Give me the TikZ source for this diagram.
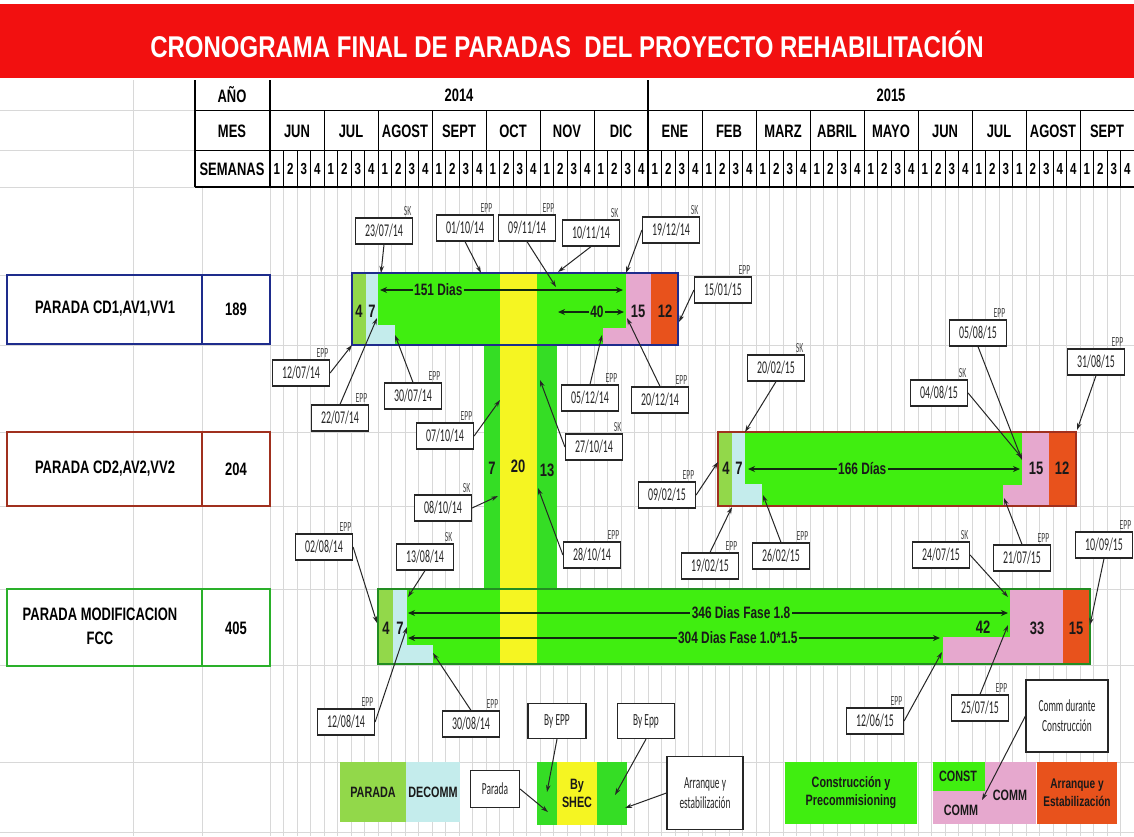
\documentclass[tikz,border=0pt]{standalone}
\usepackage{fontspec}
\setmainfont{Liberation Sans}
\newfontfamily\nar[FakeStretch=0.72]{Liberation Sans}
\newfontfamily\tfont[FakeStretch=0.8]{Liberation Sans}
\newfontfamily\calc[FakeStretch=0.55]{Carlito}
\usetikzlibrary{arrows.meta}
\definecolor{tred}{HTML}{F21010}
\definecolor{lgreen}{HTML}{92D84A}
\definecolor{bgreen}{HTML}{40EE10}
\definecolor{sgreen}{HTML}{35DD25}
\definecolor{lcyan}{HTML}{C4ECEC}
\definecolor{pinkc}{HTML}{E6A8CE}
\definecolor{orng}{HTML}{E8521C}
\definecolor{yel}{HTML}{F5F522}
\definecolor{bordA}{HTML}{1E2C8C}
\definecolor{bordB}{HTML}{A0301E}
\definecolor{bordC}{HTML}{2AB02A}
\definecolor{gridc}{HTML}{D8D8D8}
\definecolor{arrc}{HTML}{102810}
\newcommand{\mycall}[7]{%
  \node[callout] (#1) at (#2,#3) {#4};
  \node[tagtxt, anchor=south east] (#1t) at ([xshift=-1pt,yshift=1pt]#1.north east) {#5};
  \coordinate (#1p) at (#6);
  \draw[callarr] (#7) -- (#1p);
}
\begin{document}
\begin{tikzpicture}[x=1pt,y=-1pt,
  hd/.style={font=\nar\bfseries\fontsize{18}{18}\selectfont, inner sep=0pt},
  wk/.style={font=\nar\bfseries\fontsize{16}{16}\selectfont, inner sep=0pt},
  num/.style={font=\nar\bfseries\fontsize{18}{18}\selectfont, inner sep=0pt, text=black!90},
  lbl/.style={font=\nar\bfseries\fontsize{16.5}{16.5}\selectfont, inner sep=1.5pt, fill=bgreen, text=black!90},
  callout/.style={draw=black!85, fill=white, line width=1.2pt, font=\calc\fontsize{18}{18}\selectfont, minimum width=57pt, minimum height=26pt, inner sep=1pt, text=black!85},
  tagtxt/.style={font=\calc\fontsize{14}{14}\selectfont, text=black!70, inner sep=0.5pt},
  callarr/.style={-{Stealth[length=7pt,width=4.5pt]}, line width=1pt, black!85},
  harr/.style={{Stealth[length=7pt,width=6pt]}-{Stealth[length=7pt,width=6pt]}, line width=2pt, arrc},
  rowlbl/.style={font=\nar\bfseries\fontsize{18}{24}\selectfont, inner sep=0pt, align=center},
  leg/.style={font=\nar\bfseries\fontsize{15}{18}\selectfont, inner sep=0pt, align=center, text=black!90},
  lbox/.style={draw=black!85, fill=white, line width=1.2pt, font=\calc\fontsize{17}{20}\selectfont, inner sep=1pt, align=center, text=black!85},
  gl/.style={gridc, line width=0.6pt},
  hline/.style={black, line width=1.6pt}
]
\useasboundingbox (0,0) rectangle (1134,836);
\fill[white] (0,0) rectangle (1134,836);

% spreadsheet grid
\foreach \k in {1,...,63} \draw[gl] ({270+13.5*\k},187) -- ({270+13.5*\k},836);
\foreach \yy in {187,275,345,432,506,589,665,762,832} \draw[gl] (0,\yy) -- (1134,\yy);
\foreach \yy in {110,150} \draw[gl] (0,\yy) -- (195,\yy);
\foreach \xx in {133,202,270} \draw[gl] (\xx,80) -- (\xx,836);

% title bar
\fill[tred] (0,4) rectangle (1134,78);
\node[font=\tfont\bfseries\fontsize{30}{30}\selectfont, text=white, inner sep=0pt] (title) at (567,44) {CRONOGRAMA FINAL DE PARADAS \ DEL PROYECTO REHABILITACIÓN};

% header table
\fill[white] (195,80) rectangle (1134,187);
\foreach \k in {1,...,63} \draw[black, line width=0.5pt] ({270+13.5*\k},150) -- ({270+13.5*\k},187);
\foreach \i in {1,...,15} \draw[black, line width=0.9pt] ({270+54*\i},110) -- ({270+54*\i},187);
\draw[hline] (195,80) -- (195,187);
\draw[hline] (270,80) -- (270,187);
\draw[hline] (648,80) -- (648,187);
\draw[black, line width=1pt] (195,110) -- (1134,110);
\draw[black, line width=1pt] (195,150) -- (1134,150);
\draw[hline] (195,187) -- (1134,187);
\node[hd] (hano) at (232,95) {AÑO};
\node[hd] (hmes) at (232,131) {MES};
\node[hd] (hsem) at (232,169) {SEMANAS};
\node[hd] (y14) at (459,95) {2014};
\node[hd] (y15) at (891,95) {2015};
\foreach \m [count=\i from 0] in {JUN,JUL,AGOST,SEPT,OCT,NOV,DIC,ENE,FEB,MARZ,ABRIL,MAYO,JUN,JUL,AGOST,SEPT}
  \node[hd] (m\i) at ({297+54*\i},131) {\m};
\foreach \w [count=\i from 0] in {1,2,3,4,1,2,3,4,1,2,3,4,1,2,3,4,1,2,3,4,1,2,3,4,1,2,3,4,1,2,3,4,1,2,3,4,1,2,3,4,1,2,3,4,1,2,3,4,1,2,3,4,1,2,3,1,2,3,4,4,1,2,3,4}
  \node[wk] (w\i) at ({276.75+13.5*\i},169) {\w};

% row label boxes
\draw[bordA, line width=1.8pt] (7,275) rectangle (270,344);
\draw[bordA, line width=1.2pt] (202,275) -- (202,344);
\node[rowlbl] (p1) at (105,309) {PARADA CD1,AV1,VV1};
\node[rowlbl] (d1) at (236,309) {189};
\draw[bordB, line width=1.8pt] (7,432) rectangle (270,506);
\draw[bordB, line width=1.2pt] (202,432) -- (202,506);
\node[rowlbl] (p2) at (105,469) {PARADA CD2,AV2,VV2};
\node[rowlbl] (d2) at (236,469) {204};
\draw[bordC, line width=1.8pt] (7,589) rectangle (270,666);
\draw[bordC, line width=1.2pt] (202,589) -- (202,666);
\node[rowlbl] (p3) at (100,626) {PARADA MODIFICACION\\FCC};
\node[rowlbl] (d3) at (236,628) {405};

% bar 1
\fill[bgreen] (352,273) rectangle (678,345);
\fill[lgreen] (352,273) rectangle (366,345);
\fill[lcyan] (366,273) rectangle (378,345);
\fill[lcyan] (366,325) rectangle (395,345);
\fill[pinkc] (626,273) rectangle (651,345);
\fill[pinkc] (603,328) rectangle (626,345);
\fill[orng] (651,273) rectangle (678,345);
% bar 2
\fill[bgreen] (718,432) rectangle (1076,506);
\fill[lgreen] (718,432) rectangle (732,506);
\fill[lcyan] (732,432) rectangle (745,506);
\fill[lcyan] (732,484) rectangle (762,506);
\fill[pinkc] (1022,432) rectangle (1049,506);
\fill[pinkc] (1003,485) rectangle (1022,506);
\fill[orng] (1049,432) rectangle (1076,506);
% bar 3
\fill[bgreen] (378,589) rectangle (1090,664);
\fill[lgreen] (378,589) rectangle (393,664);
\fill[lcyan] (393,589) rectangle (407,664);
\fill[lcyan] (393,645) rectangle (433,664);
\fill[pinkc] (1010,589) rectangle (1063,664);
\fill[pinkc] (943,637) rectangle (1010,664);
\fill[orng] (1063,589) rectangle (1090,664);
% vertical stripe
\fill[sgreen] (484,345) rectangle (557,589);
\fill[yel] (500,273) rectangle (537,664);
% bar borders
\draw[bordA, line width=2.4pt] (352,273) rectangle (678,345);
\draw[bordB, line width=2.2pt] (718,432) rectangle (1076,506);
\draw[bordC!80!black, line width=2pt] (378,589) rectangle (1090,664);

% numbers
\node[num] (b1a) at (359,311) {4};
\node[num] (b1b) at (372,311) {7};
\node[num] (b1c) at (638,311) {15};
\node[num] (b1d) at (665,311) {12};
\node[num] (b2a) at (726,468) {4};
\node[num] (b2b) at (739,468) {7};
\node[num] (b2c) at (1036,468) {15};
\node[num] (b2d) at (1062,468) {12};
\node[num] (b3a) at (386,628) {4};
\node[num] (b3b) at (400,628) {7};
\node[num] (b3c) at (983,627) {42};
\node[num] (b3d) at (1037,628) {33};
\node[num] (b3e) at (1076,628) {15};
\node[num] (sa) at (492,468) {7};
\node[num] (sb) at (518,466) {20};
\node[num] (sc) at (547,470) {13};

% horizontal duration arrows
\coordinate (h1l) at (380,290); \coordinate (h1r) at (623,290);
\draw[harr] (h1l) -- node[lbl, pos=0.24] (t151) {151 Dias} (h1r);
\coordinate (h2l) at (558,312); \coordinate (h2r) at (624,312);
\draw[harr] (h2l) -- node[lbl, pos=0.59] (t40) {40} (h2r);
\coordinate (h3l) at (748,469); \coordinate (h3r) at (1020,469);
\draw[harr] (h3l) -- node[lbl, pos=0.42] (t166) {166 Días} (h3r);
\coordinate (h4l) at (408,613); \coordinate (h4r) at (1008,613);
\draw[harr] (h4l) -- node[lbl, pos=0.555] (t346) {346 Dias Fase 1.8} (h4r);
\coordinate (h5l) at (408,638); \coordinate (h5r) at (940,638);
\draw[harr] (h5l) -- node[lbl, pos=0.62] (t304) {304 Dias Fase 1.0*1.5} (h5r);

% callouts
\mycall{c1}{384}{231}{23/07/14}{SK}{381,273}{c1.south}
\mycall{c2}{465}{228}{01/10/14}{EPP}{481,273}{c2.south}
\mycall{c3}{527}{228}{09/11/14}{EPP}{556,287}{c3.south}
\mycall{c4}{591}{233}{10/11/14}{SK}{558,272}{c4.south}
\mycall{c5}{671}{230}{19/12/14}{SK}{626,273}{c5.west}
\mycall{c6}{723}{290}{15/01/15}{EPP}{679,322}{c6.west}
\mycall{c7}{301}{373}{12/07/14}{EPP}{352,345}{c7.east}
\mycall{c8}{340}{418}{22/07/14}{EPP}{377,318}{c8.north}
\mycall{c9}{413}{396}{30/07/14}{EPP}{395,335}{c9.north}
\mycall{c10}{590}{398}{05/12/14}{EPP}{602,335}{c10.north}
\mycall{c11}{660}{400}{20/12/14}{EPP}{627,318}{c11.north}
\mycall{c12}{445}{436}{07/10/14}{EPP}{500,400}{c12.east}
\mycall{c13}{594}{447}{27/10/14}{SK}{540,380}{c13.west}
\mycall{c14}{443}{508}{08/10/14}{SK}{498,496}{c14.east}
\mycall{c15}{592}{555}{28/10/14}{EPP}{538,488}{c15.west}
\mycall{c16}{776}{368}{20/02/15}{SK}{745,432}{c16.south}
\mycall{c17}{978}{333}{05/08/15}{EPP}{1022,460}{c17.south}
\mycall{c18}{939}{393}{04/08/15}{SK}{1022,458}{c18.east}
\mycall{c19}{1096}{362}{31/08/15}{EPP}{1077,430}{c19.south}
\mycall{c20}{667}{495}{09/02/15}{EPP}{718,462}{c20.east}
\mycall{c21}{710}{566}{19/02/15}{EPP}{732,507}{c21.north}
\mycall{c22}{781}{556}{26/02/15}{EPP}{763,495}{c22.north}
\mycall{c23}{1022}{558}{21/07/15}{EPP}{1004,498}{c23.north}
\mycall{c24}{324}{547}{02/08/14}{EPP}{377,623}{c24.east}
\mycall{c25}{425}{557}{13/08/14}{SK}{408,597}{c25.south}
\mycall{c26}{346}{722}{12/08/14}{EPP}{407,627}{c26.east}
\mycall{c27}{471}{724}{30/08/14}{EPP}{433,653}{c27.north}
\mycall{c28}{941}{555}{24/07/15}{SK}{1008,597}{c28.east}
\mycall{c29}{1104}{545}{10/09/15}{EPP}{1090,625}{c29.south}
\mycall{c30}{875}{721}{12/06/15}{EPP}{942,652}{c30.east}
\mycall{c31}{980}{708}{25/07/15}{EPP}{1008,625}{c31.north}

% legend
\fill[lgreen] (340,762) rectangle (406,822);
\node[leg] (lgp) at (373,792) {PARADA};
\fill[lcyan] (406,762) rectangle (460,822);
\node[leg] (lgd) at (433,792) {DECOMM};
\fill[sgreen] (537,762) rectangle (627,825);
\fill[yel] (557,762) rectangle (597,825);
\node[leg] (lgs) at (577,793) {By\\SHEC};
\fill[bgreen] (785,762) rectangle (917,824);
\node[leg] (lgc) at (851,793) {Construcción y\\Precommisioning};
\fill[pinkc] (933,762) rectangle (1036,824);
\fill[bgreen] (933,762) rectangle (985,791);
\node[leg] (lgk1) at (958,776) {CONST};
\node[leg] (lgk2) at (961,810) {COMM};
\node[leg] (lgk3) at (1010,795) {COMM};
\fill[orng] (1037,762) rectangle (1117,824);
\node[leg, font=\nar\bfseries\fontsize{14}{18}\selectfont] (lga) at (1077,793) {Arranque y\\Estabilización};

\node[lbox, minimum width=49pt, minimum height=37pt] (lp) at (495,789) {Parada};
\node[lbox, minimum width=58pt, minimum height=35pt] (le1) at (557,721) {By EPP};
\node[lbox, minimum width=57pt, minimum height=35pt] (le2) at (646,721) {By Epp};
\node[lbox, minimum width=76pt, minimum height=73pt] (la) at (705,793) {Arranque y\\estabilización};
\node[lbox, minimum width=82pt, minimum height=72pt] (lc) at (1067,716) {Comm durante\\Construcción};
\coordinate (lpp) at (548,812);
\coordinate (le1p) at (547,792);
\coordinate (le2p) at (615,795);
\coordinate (lap) at (625,808);
\coordinate (lcp) at (982,800);
\draw[callarr] (lp.east) -- (lpp);
\draw[callarr] (le1.south) -- (le1p);
\draw[callarr] (le2.south) -- (le2p);
\draw[callarr] (la.west) -- (lap);
\draw[callarr] (lc.west) -- (lcp);
\end{tikzpicture}
\end{document}
